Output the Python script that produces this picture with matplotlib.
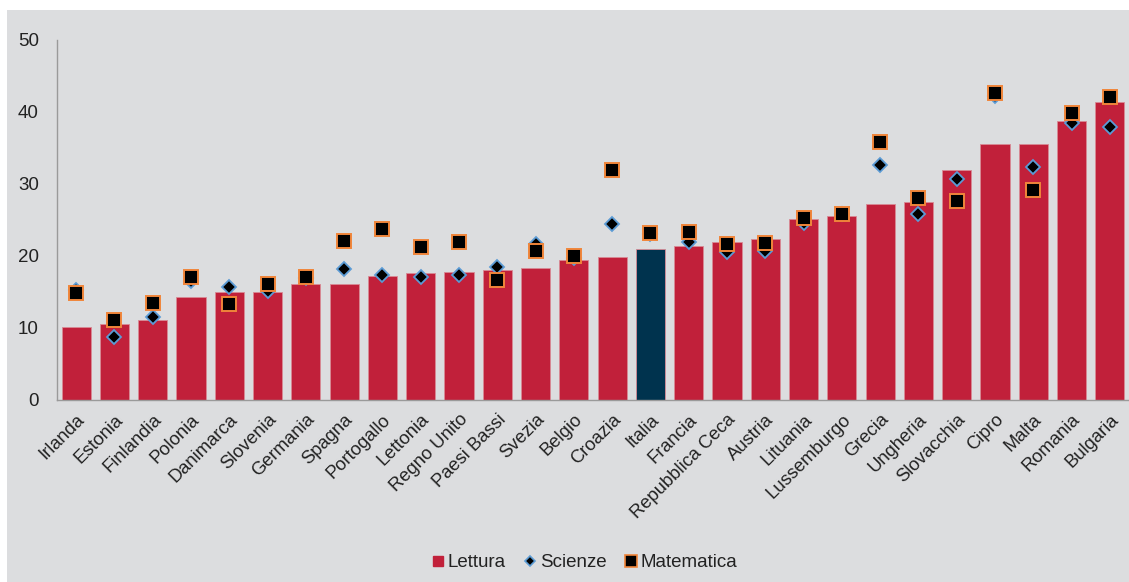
import matplotlib
matplotlib.use("Agg")
import matplotlib.pyplot as plt
from matplotlib.patches import Rectangle
from matplotlib.lines import Line2D

plt.rcParams['font.family'] = ['Liberation Sans', 'DejaVu Sans']

paesi = ["Irlanda", "Estonia", "Finlandia", "Polonia", "Danimarca", "Slovenia",
         "Germania", "Spagna", "Portogallo", "Lettonia", "Regno Unito",
         "Paesi Bassi", "Svezia", "Belgio", "Croazia", "Italia", "Francia",
         "Repubblica Ceca", "Austria", "Lituania", "Lussemburgo", "Grecia",
         "Ungheria", "Slovacchia", "Cipro", "Malta", "Romania", "Bulgaria"]

lettura = [10.1, 10.6, 11.1, 14.3, 15.0, 15.0, 16.1, 16.1, 17.2, 17.6, 17.8,
           18.1, 18.3, 19.4, 19.8, 21.0, 21.4, 22.0, 22.4, 25.1, 25.6, 27.2,
           27.5, 32.0, 35.6, 35.6, 38.7, 41.4]

scienze = [15.3, 8.7, 11.5, 16.5, 15.7, 15.2, 16.9, 18.2, 17.4, 17.1, 17.3,
           18.5, 21.6, 19.7, 24.5, 23.0, 22.0, 20.6, 20.7, 24.6, 25.8, 32.7,
           25.9, 30.7, 42.2, 32.4, 38.5, 37.9]

matematica = [14.9, 11.1, 13.5, 17.1, 13.4, 16.1, 17.1, 22.1, 23.7, 21.3, 21.9,
              16.6, 20.7, 20.0, 31.9, 23.2, 23.4, 21.6, 21.8, 25.3, 25.8, 35.8,
              28.0, 27.6, 42.6, 29.1, 39.9, 42.1]

evidenziato = "Italia"
y_ticks = [0, 10, 20, 30, 40, 50]

RED = "#c1203a"
NAVY = "#00334e"
BG = "#dcdddf"
TXT = "#222222"

fig = plt.figure(figsize=(11.29, 5.82), dpi=100, facecolor="white")
fig.patches.append(Rectangle((7 / 1129, 0), 1 - 7 / 1129, 1 - 10 / 582,
                             transform=fig.transFigure, facecolor=BG,
                             edgecolor="none", zorder=-10))

ax = fig.add_axes([57 / 1129, 1 - 400 / 582, 1 - 57 / 1129, 360 / 582])
ax.set_facecolor(BG)

x = list(range(len(paesi)))
colors = [NAVY if p == evidenziato else RED for p in paesi]
ax.bar(x, lettura, width=0.76, color=colors, edgecolor="#d88a95",
       linewidth=0.6, zorder=2)
ax.plot(x, scienze, linestyle="none", marker="D", markersize=7.5,
        markerfacecolor="black", markeredgecolor="#5b9bd5",
        markeredgewidth=1.3, zorder=3)
ax.plot(x, matematica, linestyle="none", marker="s", markersize=9.5,
        markerfacecolor="black", markeredgecolor="#f0853a",
        markeredgewidth=1.4, zorder=4)

ax.set_xlim(-0.5, len(paesi) - 0.5)
ax.set_ylim(0, 50)
ax.set_yticks(y_ticks)
ax.set_yticklabels([str(v) for v in y_ticks], fontsize=13.5, color=TXT)
ax.set_xticks(x)
ax.set_xticklabels(paesi, rotation=45, ha="right", va="top",
                   rotation_mode="anchor", fontsize=13.2, color=TXT)
ax.tick_params(axis="both", length=0)
ax.tick_params(axis="y", pad=13)
ax.tick_params(axis="x", pad=8)

for s in ["top", "right"]:
    ax.spines[s].set_visible(False)
for s in ["left", "bottom"]:
    ax.spines[s].set_color("#9a9a9a")
    ax.spines[s].set_linewidth(1.0)

handles = [
    Line2D([], [], linestyle="none", marker="s", markersize=7,
           markerfacecolor=RED, markeredgecolor=RED),
    Line2D([], [], linestyle="none", marker="D", markersize=5.5,
           markerfacecolor="black", markeredgecolor="#5b9bd5",
           markeredgewidth=1.2),
    Line2D([], [], linestyle="none", marker="s", markersize=8,
           markerfacecolor="black", markeredgecolor="#f0853a",
           markeredgewidth=1.2),
]
fig.legend(handles, ["Lettura", "Scienze", "Matematica"], loc="center",
           bbox_to_anchor=(0.518, 0.033), ncol=3, frameon=False,
           fontsize=13.5, handlelength=0.6, handletextpad=0.2,
           columnspacing=1.0, labelcolor=TXT)

fig.savefig("out.png", dpi=100, facecolor=fig.get_facecolor())
